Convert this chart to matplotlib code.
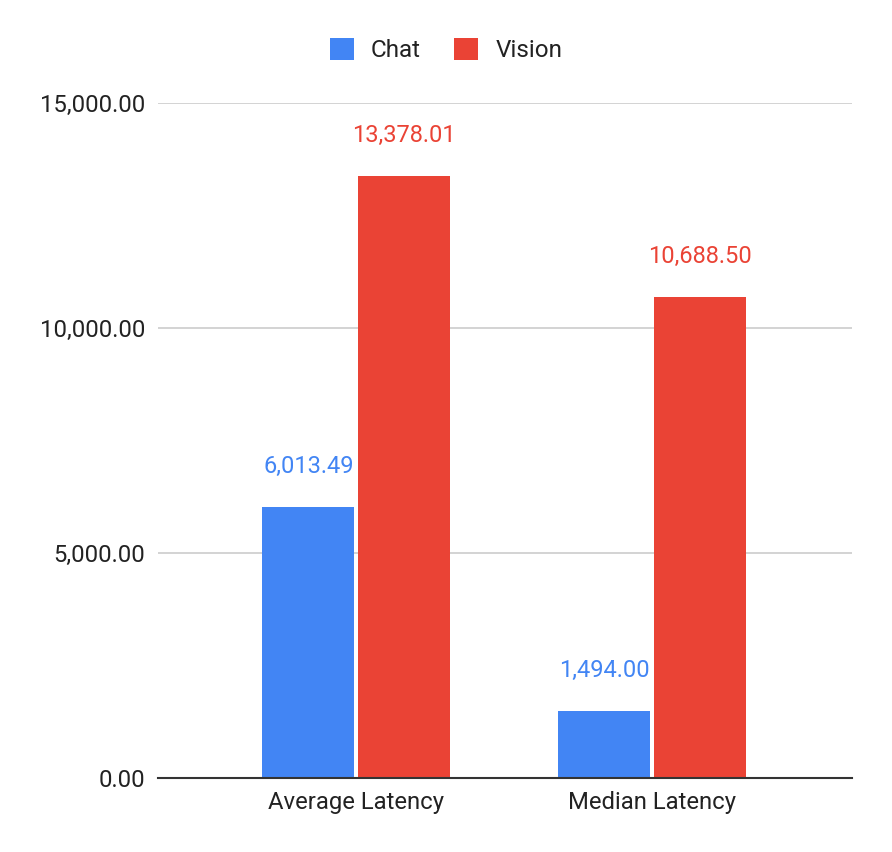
import matplotlib
matplotlib.use("Agg")
import matplotlib.pyplot as plt
import numpy as np
from matplotlib.ticker import FuncFormatter

plt.rcParams['font.family'] = ['Roboto', 'DejaVu Sans']

categories = ["Average Latency", "Median Latency"]
series_names = ["Chat", "Vision"]
chat_values = [6013.49, 1494.00]
vision_values = [13378.01, 10688.50]
y_ticks = [0, 5000, 10000, 15000]

colors = ["#4285F4", "#EA4335"]
FS = 17.2

fig = plt.figure(figsize=(8.92, 8.52), dpi=100)
ax = fig.add_axes([158/892, 74/852, (852-158)/892, (778-103)/852])

x = np.arange(len(categories))
w = 0.311
off = 0.162
b1 = ax.bar(x - off, chat_values, w, color=colors[0], label=series_names[0], zorder=3)
b2 = ax.bar(x + off, vision_values, w, color=colors[1], label=series_names[1], zorder=3)

for bars, vals, c in [(b1, chat_values, colors[0]), (b2, vision_values, colors[1])]:
    for rect, v in zip(bars, vals):
        ax.annotate(f"{v:,.2f}", (rect.get_x() + rect.get_width()/2, v),
                    xytext=(0, 21), textcoords="offset points",
                    ha="center", va="bottom", color=c, fontsize=17)

ax.set_xlim(-0.67, 1.675)
ax.set_ylim(0, 15000)
ax.set_yticks(y_ticks)
ax.yaxis.set_major_formatter(FuncFormatter(lambda v, p: f"{v:,.2f}"))
ax.set_xticks(x)
ax.set_xticklabels(categories)
ax.tick_params(axis="both", length=0, labelsize=FS, colors="#222222")
ax.tick_params(axis="y", pad=9)
ax.tick_params(axis="x", pad=9)
ax.grid(axis="y", color="#cccccc", linewidth=1.2, zorder=0)
for s in ["top", "right", "left"]:
    ax.spines[s].set_visible(False)
ax.spines["bottom"].set_color("#333333")
ax.spines["bottom"].set_linewidth(1.5)
ax.spines["bottom"].set_zorder(4)

leg = fig.legend(handles=[b1, b2], labels=series_names, loc="center",
                 bbox_to_anchor=(446/892, 1 - 50/852), ncol=2, frameon=False,
                 fontsize=17.5, handlelength=1.0, handleheight=1.0,
                 handletextpad=0.7, columnspacing=1.35)
for t in leg.get_texts():
    t.set_color("#222222")

fig.savefig("out.png", dpi=100)
